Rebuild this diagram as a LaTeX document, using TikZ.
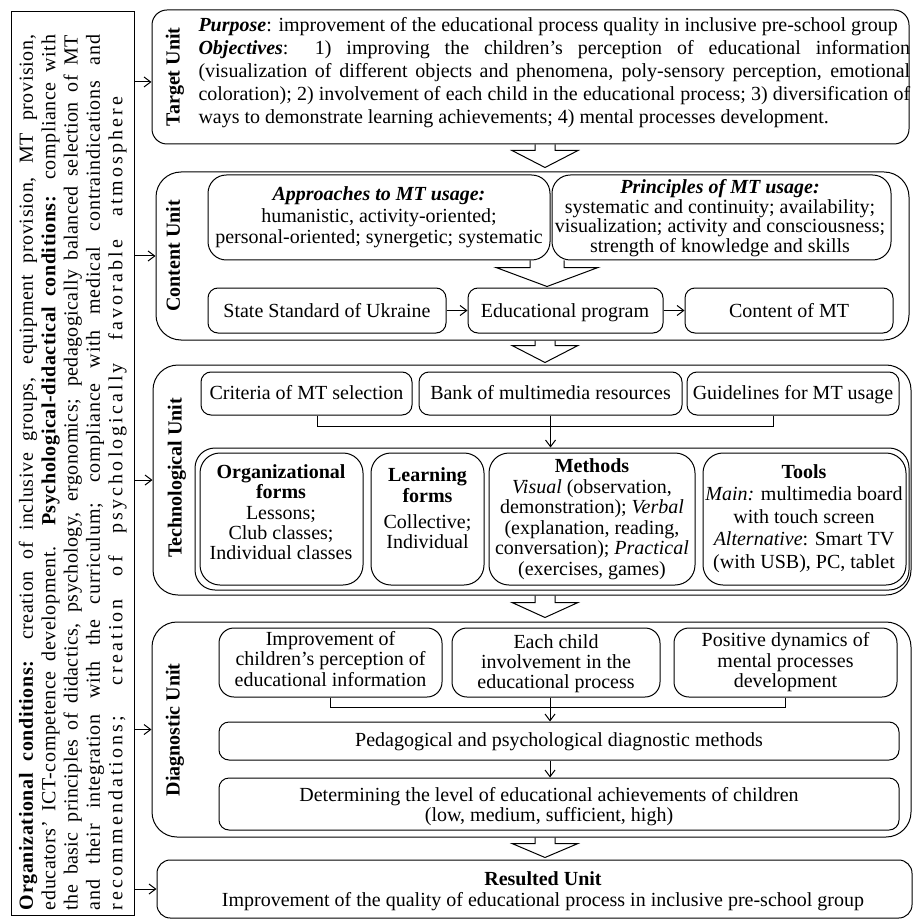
\documentclass[tikz,border=0pt]{standalone}
\usepackage{fontspec}
\setmainfont{Liberation Serif}
\usetikzlibrary{arrows.meta,calc,fit}
\newcommand\jline[2]{\makebox[#1][s]{#2}}
\newcommand\lsline[3]{\makebox[#1][s]{\addfontfeatures{LetterSpace=#2}#3}}
\newcommand\tabtxt[2][c]{\begin{tabular}[t]{@{}#1@{}}#2\end{tabular}}
\newcommand\blockarr[7]{%
  \draw[barrow] ($(#1.south -| #3)+(-#4,0)$) -- ++(0,#6) -- ++({#4-#5},0)
    -- ($(#2.north -| #3)+(0,-#7)$) -- ($(#1.south -| #3)+(#5,#6)$)
    -- ++({#4-#5},0) -- ++(0,-#6);}
\begin{document}
\begin{tikzpicture}[x=0.6pt,y=-0.6pt,
  font=\fontsize{12}{13.8}\selectfont, line width=0.6pt,
  plain/.style={draw, inner sep=0pt},
  unitbox/.style={draw, rounded corners=15pt, inner sep=0pt},
  box/.style={draw, rounded corners=6pt, inner sep=0pt},
  bigbox/.style={box, rounded corners=11pt},
  tx/.style={inner sep=0pt, anchor=base},
  arr/.style={-{Straight Barb[length=4pt,width=6pt]}},
  barrow/.style={line width=0.6pt, line join=miter},
  lbl/.style={rotate=90, font=\bfseries\fontsize{12}{13.8}\selectfont, inner sep=0pt}]
\useasboundingbox (0,0) rectangle (913,920);
\coordinate (axis) at (545,0);
\coordinate (axisb) at (547,0);

% conditions box
\node[plain, fit={(11,12) (134,915)}] (cond) {};
\node[tx, rotate=90, font=\fontsize{12}{13.4}\selectfont] (condtext) at (33,472.5) {\tabtxt[l]{%
\lsline{525pt}{3}{\textbf{Organizational conditions:} creation of inclusive groups, equipment provision, MT provision,}\\
\lsline{525pt}{3}{educators’ ICT-competence development. \textbf{Psychological-didactical conditions:} compliance with}\\
\lsline{525pt}{2}{the basic principles of didactics, psychology, ergonomics; pedagogically balanced selection of MT}\\
\lsline{525pt}{4}{and their integration with the curriculum; compliance with medical contraindications and}\\
\lsline{488pt}{15.5}{recommendations; creation of psychologically favorable atmosphere}}};

% target unit
\node[unitbox, rounded corners=9pt, fit={(152,10) (909,144)}] (target) {};
\node[lbl] (targetlbl) at (175,77) {Target Unit};
\node[tx, anchor=base west] (targettext) at (198,31.5) {\tabtxt[l]{%
\textbf{\textit{Purpose}}: improvement of the educational process quality in inclusive pre-school group\\
\jline{427pt}{\textbf{\textit{Objectives}}: 1) improving the children’s perception of educational information}\\
\jline{427pt}{(visualization of different objects and phenomena, poly-sensory perception, emotional}\\
\jline{427pt}{coloration); 2) involvement of each child in the educational process; 3) diversification of}\\
ways to demonstrate learning achievements; 4) mental processes development.}};

% content unit
\node[unitbox, fit={(156,172) (909,340)}] (content) {};
\node[lbl] (contentlbl) at (173,256) {Content Unit};
\node[bigbox, fit={(208,175) (550,260)}] (appr) {};
\node[tx, font=\fontsize{12}{12.4}\selectfont] (apprtxt) at (379,201) {\tabtxt{%
  \textbf{\textit{Approaches to MT usage:}}\\[0.6pt]
  humanistic, activity-oriented;\\ personal-oriented; synergetic; systematic}};
\node[bigbox, fit={(552,175) (891,260)}] (princ) {};
\node[tx, font=\fontsize{12}{11.7}\selectfont] (princtxt) at (720,193.3) {\tabtxt{%
  \textbf{\textit{Principles of MT usage:}}\\
  systematic and continuity; availability;\\ visualization; activity and consciousness;\\
  strength of knowledge and skills}};
\node[box, fit={(208,288) (446,333)}] (std) {};
\node[tx] (stdtxt) at (327,317.3) {State Standard of Ukraine};
\node[box, fit={(468,288) (663,333)}] (eduprog) {};
\node[tx] (eduprogtxt) at (565,317.3) {Educational program};
\node[box, fit={(685,288) (893,333)}] (mtcontent) {};
\node[tx] (mtcontenttxt) at (789,317.3) {Content of MT};
\draw[arr] (std) -- (eduprog);
\draw[arr] (eduprog) -- (mtcontent);

% technological unit
\node[unitbox, fit={(153,365) (911,595)}] (tech) {};
\node[lbl] (techlbl) at (177,478) {Technological Unit};
\node[box, fit={(201,372) (412,415)}] (crit) {};
\node[tx] (crittxt) at (306.5,399.3) {Criteria of MT selection};
\node[box, fit={(419,372) (682,415)}] (bank) {};
\node[tx] (banktxt) at (550.5,399.3) {Bank of multimedia resources};
\node[box, fit={(687,372) (899,415)}] (guide) {};
\node[tx] (guidetxt) at (793,399.3) {Guidelines for MT usage};
\node[draw, rounded corners=12pt, inner sep=0pt, fit={(195,448) (909,590)}] (forms) {};
\node[bigbox, rounded corners=12pt, fit={(200,453) (363,585)}] (orgf) {};
\node[tx, font=\fontsize{12}{12}\selectfont] (orgftxt) at (281,478.3) {\tabtxt{%
  \textbf{Organizational}\\ \textbf{forms}\\[0.8pt] Lessons;\\ Club classes;\\ Individual classes}};
\node[bigbox, rounded corners=12pt, fit={(371,453) (484,585)}] (learnf) {};
\node[tx, font=\fontsize{12}{12.3}\selectfont] (learnftxt) at (427.5,481.7) {\tabtxt{%
  \textbf{Learning}\\ \textbf{forms}\\[3.3pt] Collective;\\ Individual}};
\node[bigbox, rounded corners=12pt, fit={(489,453) (695,585)}] (meth) {};
\node[tx, font=\fontsize{12}{12.3}\selectfont] (methtxt) at (592,472.7) {\tabtxt{%
  \textbf{Methods}\\ \textit{Visual} (observation,\\ demonstration); \textit{Verbal}\\
  (explanation, reading,\\ conversation); \textit{Practical}\\ (exercises, games)}};
\node[bigbox, rounded corners=12pt, fit={(703,453) (906,585)}] (tools) {};
\node[tx, font=\fontsize{12}{13.5}\selectfont] (toolstxt) at (804,478.3) {\tabtxt{%
  \textbf{Tools}\\ \textit{Main:} multimedia board\\ with touch screen\\
  \textit{Alternative}: Smart TV\\ (with USB), PC, tablet}};
\draw ([xshift=6.6pt]crit.south) -- ++(0,11) -| ([xshift=-12pt]guide.south);
\draw[arr] (bank.south) -- (bank.south |- forms.north);

% diagnostic unit
\node[unitbox, fit={(152,622) (911,837)}] (diag) {};
\node[lbl] (diaglbl) at (175,730) {Diagnostic Unit};
\node[bigbox, rounded corners=9pt, fit={(219,628) (442,697)}] (impr) {};
\node[tx, font=\fontsize{12}{12.3}\selectfont] (imprtxt) at (330.5,645) {\tabtxt{%
  Improvement of\\ children’s perception of\\ educational information}};
\node[bigbox, rounded corners=9pt, fit={(452,628) (660,697)}] (each) {};
\node[tx, font=\fontsize{12}{12}\selectfont] (eachtxt) at (556,648.3) {\tabtxt{%
  Each child\\ involvement in the\\ educational process}};
\node[bigbox, rounded corners=9pt, fit={(674,628) (897,697)}] (posd) {};
\node[tx, font=\fontsize{12}{12.2}\selectfont] (posdtxt) at (785.5,646.7) {\tabtxt{%
  Positive dynamics of\\ mental processes\\ development}};
\node[box, fit={(219,722) (899,760)}] (ped) {};
\node[tx] (pedtxt) at (559,746) {Pedagogical and psychological diagnostic methods};
\node[box, fit={(219,778) (899,830)}] (determ) {};
\node[tx, font=\fontsize{12}{12}\selectfont] (determtxt) at (549,801.7) {\tabtxt{%
  Determining the level of educational achievements of children\\ (low, medium, sufficient, high)}};
\draw (impr.south) -- ++(0,10) -| (posd.south);
\draw[arr] ([xshift=-3.6pt]each.south) -- ([xshift=-3.6pt]each.south |- ped.north);
\draw[arr] ([xshift=-3.6pt]each.south |- ped.south) -- ([xshift=-3.6pt]each.south |- determ.north);

% resulted unit
\node[box, rounded corners=8pt, fit={(157,860) (912,918)}] (result) {};
\node[tx, font=\fontsize{12}{12.6}\selectfont] (resulttxt) at (543,885) {\tabtxt{%
  \textbf{Resulted Unit}\\ Improvement of the quality of educational process in inclusive pre-school group}};

% arrows from the conditions box
\coordinate (tgtin) at ([yshift=-3pt]target.west);
\draw[arr] (cond.east |- tgtin) -- (tgtin);
\foreach \u in {content,tech,diag,result}
  \draw[arr] (cond.east |- \u.west) -- (\u.west);

% block arrows
\blockarr{target}{content}{axis}{10}{33}{6}{4}
\blockarr{appr}{eduprog}{axisb}{17}{51}{7}{1}
\blockarr{content}{tech}{axis}{10}{33}{5}{2}
\blockarr{tech}{diag}{axis}{10}{33}{7}{4}
\blockarr{diag}{result}{axis}{10}{33}{6}{2}
\end{tikzpicture}
\end{document}
